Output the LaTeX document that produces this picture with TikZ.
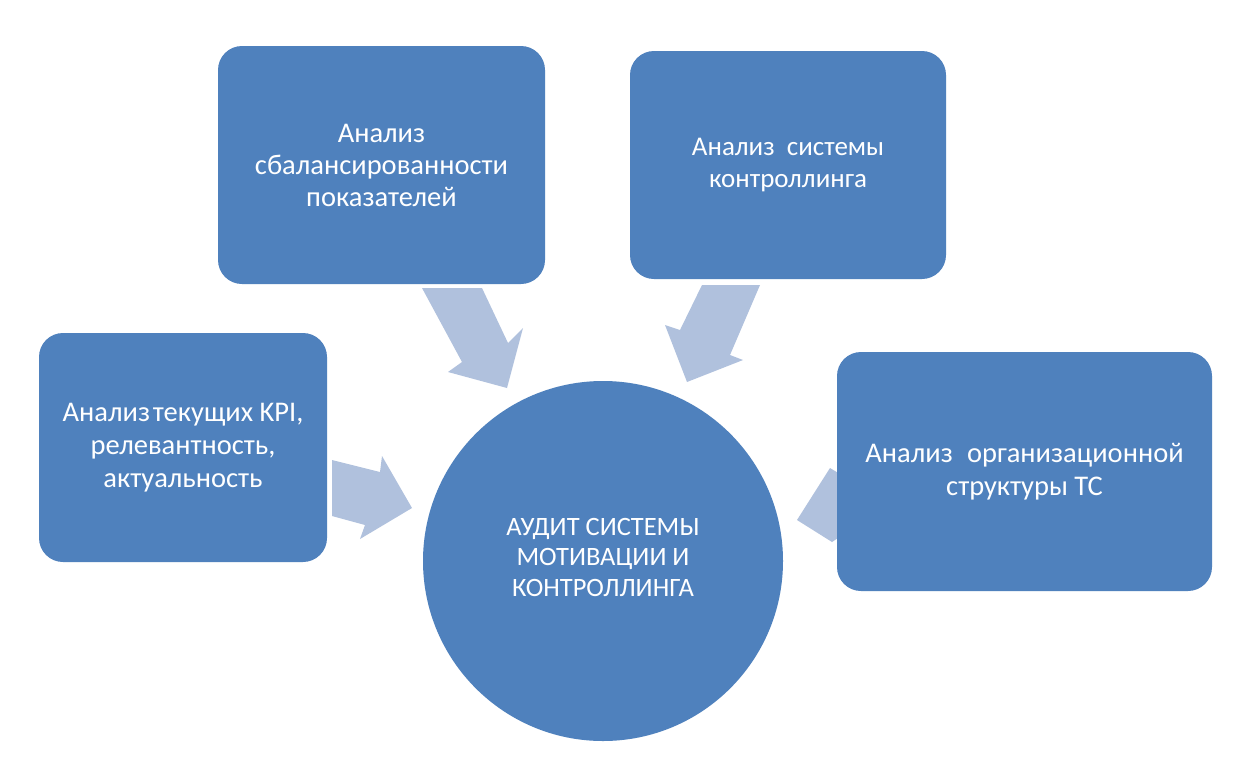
\documentclass[tikz,border=0pt]{standalone}
\usepackage{fontspec}
\setmainfont{Carlito}
\definecolor{boxblue}{HTML}{4F81BD}
\definecolor{arrowblue}{HTML}{B0C1DD}
\begin{document}
\begin{tikzpicture}[x=1pt,y=-1pt,
  box/.style={draw=none,fill=boxblue,rounded corners=24pt,text=white,align=center,
    font=\fontsize{28.5}{33}\selectfont,inner sep=0pt},
  blockarrow/.style={fill=arrowblue,draw=none}]
\useasboundingbox (0,0) rectangle (1247,761);
\fill[white] (0,0) rectangle (1247,761);
% arrows (drawn first, behind boxes)
\fill[blockarrow] (422,288) -- (482,288) -- (508,343) -- (523,328) -- (507,388) -- (448,372) -- (462,362) -- cycle;
\fill[blockarrow] (702,285) -- (760,285) -- (730,355) -- (743,360) -- (687,382) -- (665,325) -- (680,330) -- cycle;
\fill[blockarrow] (332,460) -- (380,472) -- (382,456) -- (412,508) -- (360,539) -- (365,525) -- (332,516) -- cycle;
\fill[blockarrow] (830,468) -- (797,520) -- (832,542) -- (850,530) -- (850,480) -- cycle;
% boxes
\node[box,minimum width=327pt,minimum height=238pt,font=\fontsize{28.5}{32}\selectfont] (tl) at (381.5,165) {Анализ\\сбалансированности\\показателей};
\node[box,minimum width=316pt,minimum height=228pt,font=\fontsize{27}{32.5}\selectfont] (tr) at (788,165) {Анализ\hspace{0.45em}системы\\контроллинга};
\node[box,minimum width=288pt,minimum height=229pt] (l) at (183,447.5) {Анализ\hspace{0.1em}текущих KPI,\\релевантность,\\актуальность};
\node[box,minimum width=375pt,minimum height=239pt] (r) at (1024.5,471.5) {Анализ\hspace{0.5em}организационной\\структуры ТС};
% circle
\node[circle,fill=boxblue,minimum size=360pt,inner sep=0pt] (c) at (603,561) {};
\node[text=white,align=center,font=\fontsize{26.5}{30.5}\selectfont,inner sep=0pt] (ctext) at ([yshift=4pt]c.center) {АУДИТ СИСТЕМЫ\\МОТИВАЦИИ И\\КОНТРОЛЛИНГА};
\end{tikzpicture}
\end{document}
